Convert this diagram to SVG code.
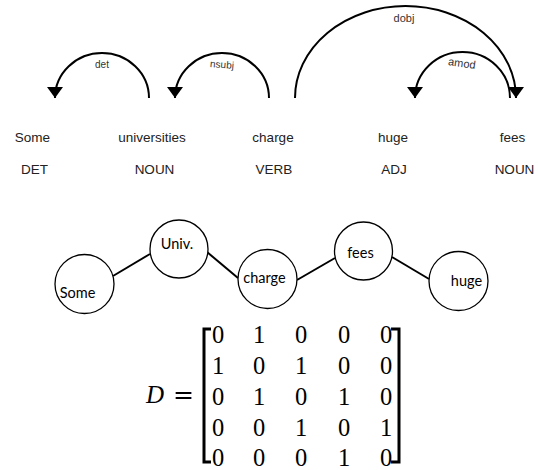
<svg xmlns="http://www.w3.org/2000/svg" width="538" height="470" viewBox="0 0 538 470">
<defs>
<marker id="arr" markerUnits="userSpaceOnUse" markerWidth="14" markerHeight="18" viewBox="0 -9 12 18" refX="11" refY="0" orient="auto">
<path d="M0,-8 L11,0 L0,8 z" fill="#000"/>
</marker>
</defs>
<style>
.arc{fill:none;stroke:#000;stroke-width:2;marker-end:url(#arr)}
.lab{font-family:"Liberation Sans",Arial,sans-serif;fill:#333;text-anchor:middle}
.word{font-family:"Liberation Sans",Arial,sans-serif;font-size:13.5px;fill:#222;text-anchor:middle}
.node circle{fill:#fff;stroke:#000;stroke-width:1.3}
.node text{font-family:Lato,"Open Sans",sans-serif;font-size:14.5px;fill:#000;text-anchor:middle}
.edge{stroke:#000;stroke-width:2}
.mx{font-family:"Liberation Serif","Times New Roman",serif;font-size:24.5px;fill:#000;text-anchor:middle}
.br{fill:none;stroke:#000;stroke-width:3}
</style>
<rect width="538" height="470" fill="#fff"/>

<g id="dependency-arcs">
<path class="arc" d="M149,98 A47,45 0 0 0 55,98"/>
<path class="arc" d="M269,98 A47,45 0 0 0 175,98"/>
<path class="arc" d="M295,98 A110.5,92 0 0 1 516,98"/>
<path class="arc" d="M510,98 A47.5,46 0 0 0 415,98"/>
<text class="lab" x="102" y="68" font-size="10">det</text>
<text class="lab" x="222" y="68" font-size="10" transform="rotate(5 222 65)">nsubj</text>
<text class="lab" x="404" y="22" font-size="11">dobj</text>
<text class="lab" x="462" y="67" font-size="11" transform="rotate(8 462 63)">amod</text>
</g>

<g id="words">
<text class="word" x="32.5" y="142">Some</text>
<text class="word" x="152" y="142">universities</text>
<text class="word" x="273" y="142">charge</text>
<text class="word" x="393" y="142">huge</text>
<text class="word" x="512.5" y="142">fees</text>
<text class="word" x="34.5" y="174">DET</text>
<text class="word" x="154.5" y="174">NOUN</text>
<text class="word" x="274" y="174">VERB</text>
<text class="word" x="394" y="174">ADJ</text>
<text class="word" x="514.5" y="174">NOUN</text>
</g>

<g id="graph-edges">
<line class="edge" x1="113" y1="276" x2="150" y2="254"/>
<line class="edge" x1="207" y1="252" x2="238" y2="278"/>
<line class="edge" x1="297" y1="280" x2="335" y2="258"/>
<line class="edge" x1="392" y1="257" x2="429" y2="279"/>
</g>

<g id="node-some" class="node"><circle cx="84.5" cy="284" r="29.5"/><text x="77.5" y="298">Some</text></g>
<g id="node-univ" class="node"><circle cx="179" cy="249" r="29"/><text x="177" y="249">Univ.</text></g>
<g id="node-charge" class="node"><circle cx="267.5" cy="279" r="29.5"/><text x="264.5" y="283">charge</text></g>
<g id="node-fees" class="node"><circle cx="363.5" cy="251" r="29"/><text x="360.5" y="258">fees</text></g>
<g id="node-huge" class="node"><circle cx="458.5" cy="281" r="29.5"/><text x="466.5" y="286">huge</text></g>

<g id="matrix">
<text x="155" y="403" font-family="'Liberation Serif',serif" font-style="italic" font-size="25" text-anchor="middle">D</text>
<text x="183.5" y="403" font-family="'DejaVu Serif',serif" font-size="25" text-anchor="middle">=</text>
<path class="br" d="M211,329 H204 V462 H211"/>
<path class="br" d="M391,329 H399 V462 H391"/>
<g class="mx">
<text x="218" y="343">0</text><text x="259" y="343">1</text><text x="301" y="343">0</text><text x="344" y="343">0</text><text x="386" y="343">0</text>
<text x="218" y="374">1</text><text x="259" y="374">0</text><text x="301" y="374">1</text><text x="344" y="374">0</text><text x="386" y="374">0</text>
<text x="218" y="405">0</text><text x="259" y="405">1</text><text x="301" y="405">0</text><text x="344" y="405">1</text><text x="386" y="405">0</text>
<text x="218" y="436">0</text><text x="259" y="436">0</text><text x="301" y="436">1</text><text x="344" y="436">0</text><text x="386" y="436">1</text>
<text x="218" y="466">0</text><text x="259" y="466">0</text><text x="301" y="466">0</text><text x="344" y="466">1</text><text x="386" y="466">0</text>
</g>
</g>
</svg>
